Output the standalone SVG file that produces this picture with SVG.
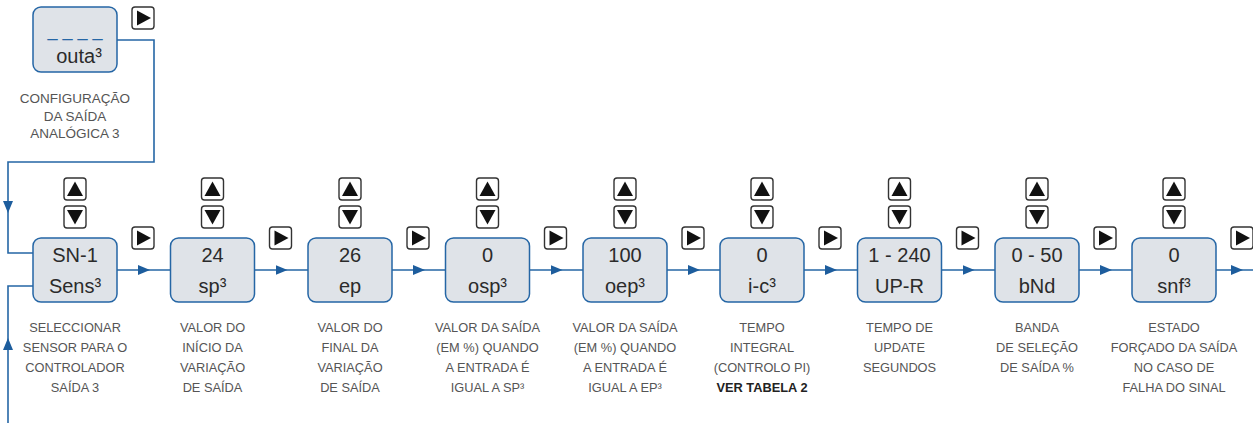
<svg xmlns="http://www.w3.org/2000/svg" xmlns:xlink="http://www.w3.org/1999/xlink" width="1253" height="423" viewBox="0 0 1253 423">
<style>
.box{fill:#dfe3e8;stroke:#2566a5;stroke-width:1.5}
.btn{fill:#fff;stroke:#333;stroke-width:1.4}
.tri{fill:#111}
.val{font-family:"Liberation Sans",Arial,sans-serif;font-size:20px;fill:#2b2b2b;text-anchor:middle}
.desc{font-family:"Liberation Sans",Arial,sans-serif;font-size:12.8px;fill:#555;text-anchor:middle}
.top{font-size:13.5px}
.bold{font-weight:bold;fill:#222}
.con{fill:none;stroke:#2566a5;stroke-width:1.6}
</style>
<defs>
<marker id="ah" markerUnits="userSpaceOnUse" markerWidth="12" markerHeight="10" refX="12" refY="5" orient="auto" viewBox="0 0 12 10">
<path d="M0,0 L12,5 L0,10 Z" fill="#1d5d9d"/>
</marker>
<g id="bUp"><rect class="btn" x="0" y="0" width="22" height="22" rx="3"/><path class="tri" d="M11,3.5 L19,18 L3,18 Z"/></g>
<g id="bDown"><rect class="btn" x="0" y="0" width="22" height="22" rx="3"/><path class="tri" d="M3,4 L19,4 L11,18.5 Z"/></g>
<g id="bRight"><rect class="btn" x="0" y="0" width="22" height="22" rx="3"/><path class="tri" d="M5,3.5 L19,11 L5,18.5 Z"/></g>
</defs>

<g id="connectors">
<path class="con" d="M117,40 H154 V162 H8 V213" marker-end="url(#ah)"/>
<path class="con" d="M8,213 V253 H33"/>
<path class="con" d="M8,423 V338" marker-end="url(#ah)"/>
<path class="con" d="M8,338 V286 H33"/>
<path class="con" d="M117,270 H150 H170.5" marker-mid="url(#ah)"/>
<path class="con" d="M254.5,270 H287.5 H308" marker-mid="url(#ah)"/>
<path class="con" d="M392,270 H425 H445.5" marker-mid="url(#ah)"/>
<path class="con" d="M529.5,270 H562.5 H583" marker-mid="url(#ah)"/>
<path class="con" d="M667,270 H700 H720" marker-mid="url(#ah)"/>
<path class="con" d="M804,270 H837 H857.5" marker-mid="url(#ah)"/>
<path class="con" d="M941.5,270 H974.5 H995" marker-mid="url(#ah)"/>
<path class="con" d="M1079,270 H1112 H1132" marker-mid="url(#ah)"/>
<path class="con" d="M1216,270 H1243 H1253" marker-mid="url(#ah)"/>
</g>

<g id="node-outa">
<rect class="box" x="33" y="7" width="84" height="65" rx="8"/>
<text x="75" y="36" font-family="Liberation Sans,Arial,sans-serif" font-size="18" fill="#2566a5" text-anchor="middle">_ _ _ _</text>
<text class="val" x="79" y="63">outa³</text>
<use xlink:href="#bRight" x="132" y="7"/>
<text class="desc top" x="75" y="103">CONFIGURAÇÃO</text>
<text class="desc top" x="75" y="120.5">DA SAÍDA</text>
<text class="desc top" x="75" y="137.5">ANALÓGICA 3</text>
</g>

<g id="node-sens" transform="translate(33,0)">
<use xlink:href="#bUp" x="31" y="178"/><use xlink:href="#bDown" x="31" y="206"/>
<rect class="box" x="0" y="238" width="84" height="64" rx="8"/>
<text class="val" x="42" y="262">SN-1</text><text class="val" x="42" y="293">Sens³</text>
<use xlink:href="#bRight" x="99" y="227"/>
<text class="desc" x="42" y="331.5">SELECCIONAR</text>
<text class="desc" x="42" y="351.8">SENSOR PARA O</text>
<text class="desc" x="42" y="372">CONTROLADOR</text>
<text class="desc" x="42" y="392.3">SAÍDA 3</text>
</g>

<g id="node-sp" transform="translate(170.5,0)">
<use xlink:href="#bUp" x="31" y="178"/><use xlink:href="#bDown" x="31" y="206"/>
<rect class="box" x="0" y="238" width="84" height="64" rx="8"/>
<text class="val" x="42" y="262">24</text><text class="val" x="42" y="293">sp³</text>
<use xlink:href="#bRight" x="99" y="227"/>
<text class="desc" x="42" y="331.5">VALOR DO</text>
<text class="desc" x="42" y="351.8">INÍCIO DA</text>
<text class="desc" x="42" y="372">VARIAÇÃO</text>
<text class="desc" x="42" y="392.3">DE SAÍDA</text>
</g>

<g id="node-ep" transform="translate(308,0)">
<use xlink:href="#bUp" x="31" y="178"/><use xlink:href="#bDown" x="31" y="206"/>
<rect class="box" x="0" y="238" width="84" height="64" rx="8"/>
<text class="val" x="42" y="262">26</text><text class="val" x="42" y="293">ep</text>
<use xlink:href="#bRight" x="99" y="227"/>
<text class="desc" x="42" y="331.5">VALOR DO</text>
<text class="desc" x="42" y="351.8">FINAL DA</text>
<text class="desc" x="42" y="372">VARIAÇÃO</text>
<text class="desc" x="42" y="392.3">DE SAÍDA</text>
</g>

<g id="node-osp" transform="translate(445.5,0)">
<use xlink:href="#bUp" x="31" y="178"/><use xlink:href="#bDown" x="31" y="206"/>
<rect class="box" x="0" y="238" width="84" height="64" rx="8"/>
<text class="val" x="42" y="262">0</text><text class="val" x="42" y="293">osp³</text>
<use xlink:href="#bRight" x="99" y="227"/>
<text class="desc" x="42" y="331.5">VALOR DA SAÍDA</text>
<text class="desc" x="42" y="351.8">(EM %) QUANDO</text>
<text class="desc" x="42" y="372">A  ENTRADA É</text>
<text class="desc" x="42" y="392.3">IGUAL A SP³</text>
</g>

<g id="node-oep" transform="translate(583,0)">
<use xlink:href="#bUp" x="31" y="178"/><use xlink:href="#bDown" x="31" y="206"/>
<rect class="box" x="0" y="238" width="84" height="64" rx="8"/>
<text class="val" x="42" y="262">100</text><text class="val" x="42" y="293">oep³</text>
<use xlink:href="#bRight" x="99" y="227"/>
<text class="desc" x="42" y="331.5">VALOR DA SAÍDA</text>
<text class="desc" x="42" y="351.8">(EM %) QUANDO</text>
<text class="desc" x="42" y="372">A ENTRADA É</text>
<text class="desc" x="42" y="392.3">IGUAL A EP³</text>
</g>

<g id="node-ic" transform="translate(720,0)">
<use xlink:href="#bUp" x="31" y="178"/><use xlink:href="#bDown" x="31" y="206"/>
<rect class="box" x="0" y="238" width="84" height="64" rx="8"/>
<text class="val" x="42" y="262">0</text><text class="val" x="42" y="293">i-c³</text>
<use xlink:href="#bRight" x="99" y="227"/>
<text class="desc" x="42" y="331.5">TEMPO</text>
<text class="desc" x="42" y="351.8">INTEGRAL</text>
<text class="desc" x="42" y="372">(CONTROLO PI)</text>
<text class="desc bold" x="42" y="392.3">VER TABELA 2</text>
</g>

<g id="node-upr" transform="translate(857.5,0)">
<use xlink:href="#bUp" x="31" y="178"/><use xlink:href="#bDown" x="31" y="206"/>
<rect class="box" x="0" y="238" width="84" height="64" rx="8"/>
<text class="val" x="42" y="262">1 - 240</text><text class="val" x="42" y="293">UP-R</text>
<use xlink:href="#bRight" x="99" y="227"/>
<text class="desc" x="42" y="331.5">TEMPO DE</text>
<text class="desc" x="42" y="351.8">UPDATE</text>
<text class="desc" x="42" y="372">SEGUNDOS</text>
</g>

<g id="node-bnd" transform="translate(995,0)">
<use xlink:href="#bUp" x="31" y="178"/><use xlink:href="#bDown" x="31" y="206"/>
<rect class="box" x="0" y="238" width="84" height="64" rx="8"/>
<text class="val" x="42" y="262">0 - 50</text><text class="val" x="42" y="293">bNd</text>
<use xlink:href="#bRight" x="99" y="227"/>
<text class="desc" x="42" y="331.5">BANDA</text>
<text class="desc" x="42" y="351.8">DE SELEÇÃO</text>
<text class="desc" x="42" y="372">DE SAÍDA %</text>
</g>

<g id="node-snf" transform="translate(1132,0)">
<use xlink:href="#bUp" x="31" y="178"/><use xlink:href="#bDown" x="31" y="206"/>
<rect class="box" x="0" y="238" width="84" height="64" rx="8"/>
<text class="val" x="42" y="262">0</text><text class="val" x="42" y="293">snf³</text>
<use xlink:href="#bRight" x="99" y="227"/>
<text class="desc" x="42" y="331.5">ESTADO</text>
<text class="desc" x="42" y="351.8">FORÇADO DA SAÍDA</text>
<text class="desc" x="42" y="372">NO CASO DE</text>
<text class="desc" x="42" y="392.3">FALHA DO SINAL</text>
</g>
</svg>
